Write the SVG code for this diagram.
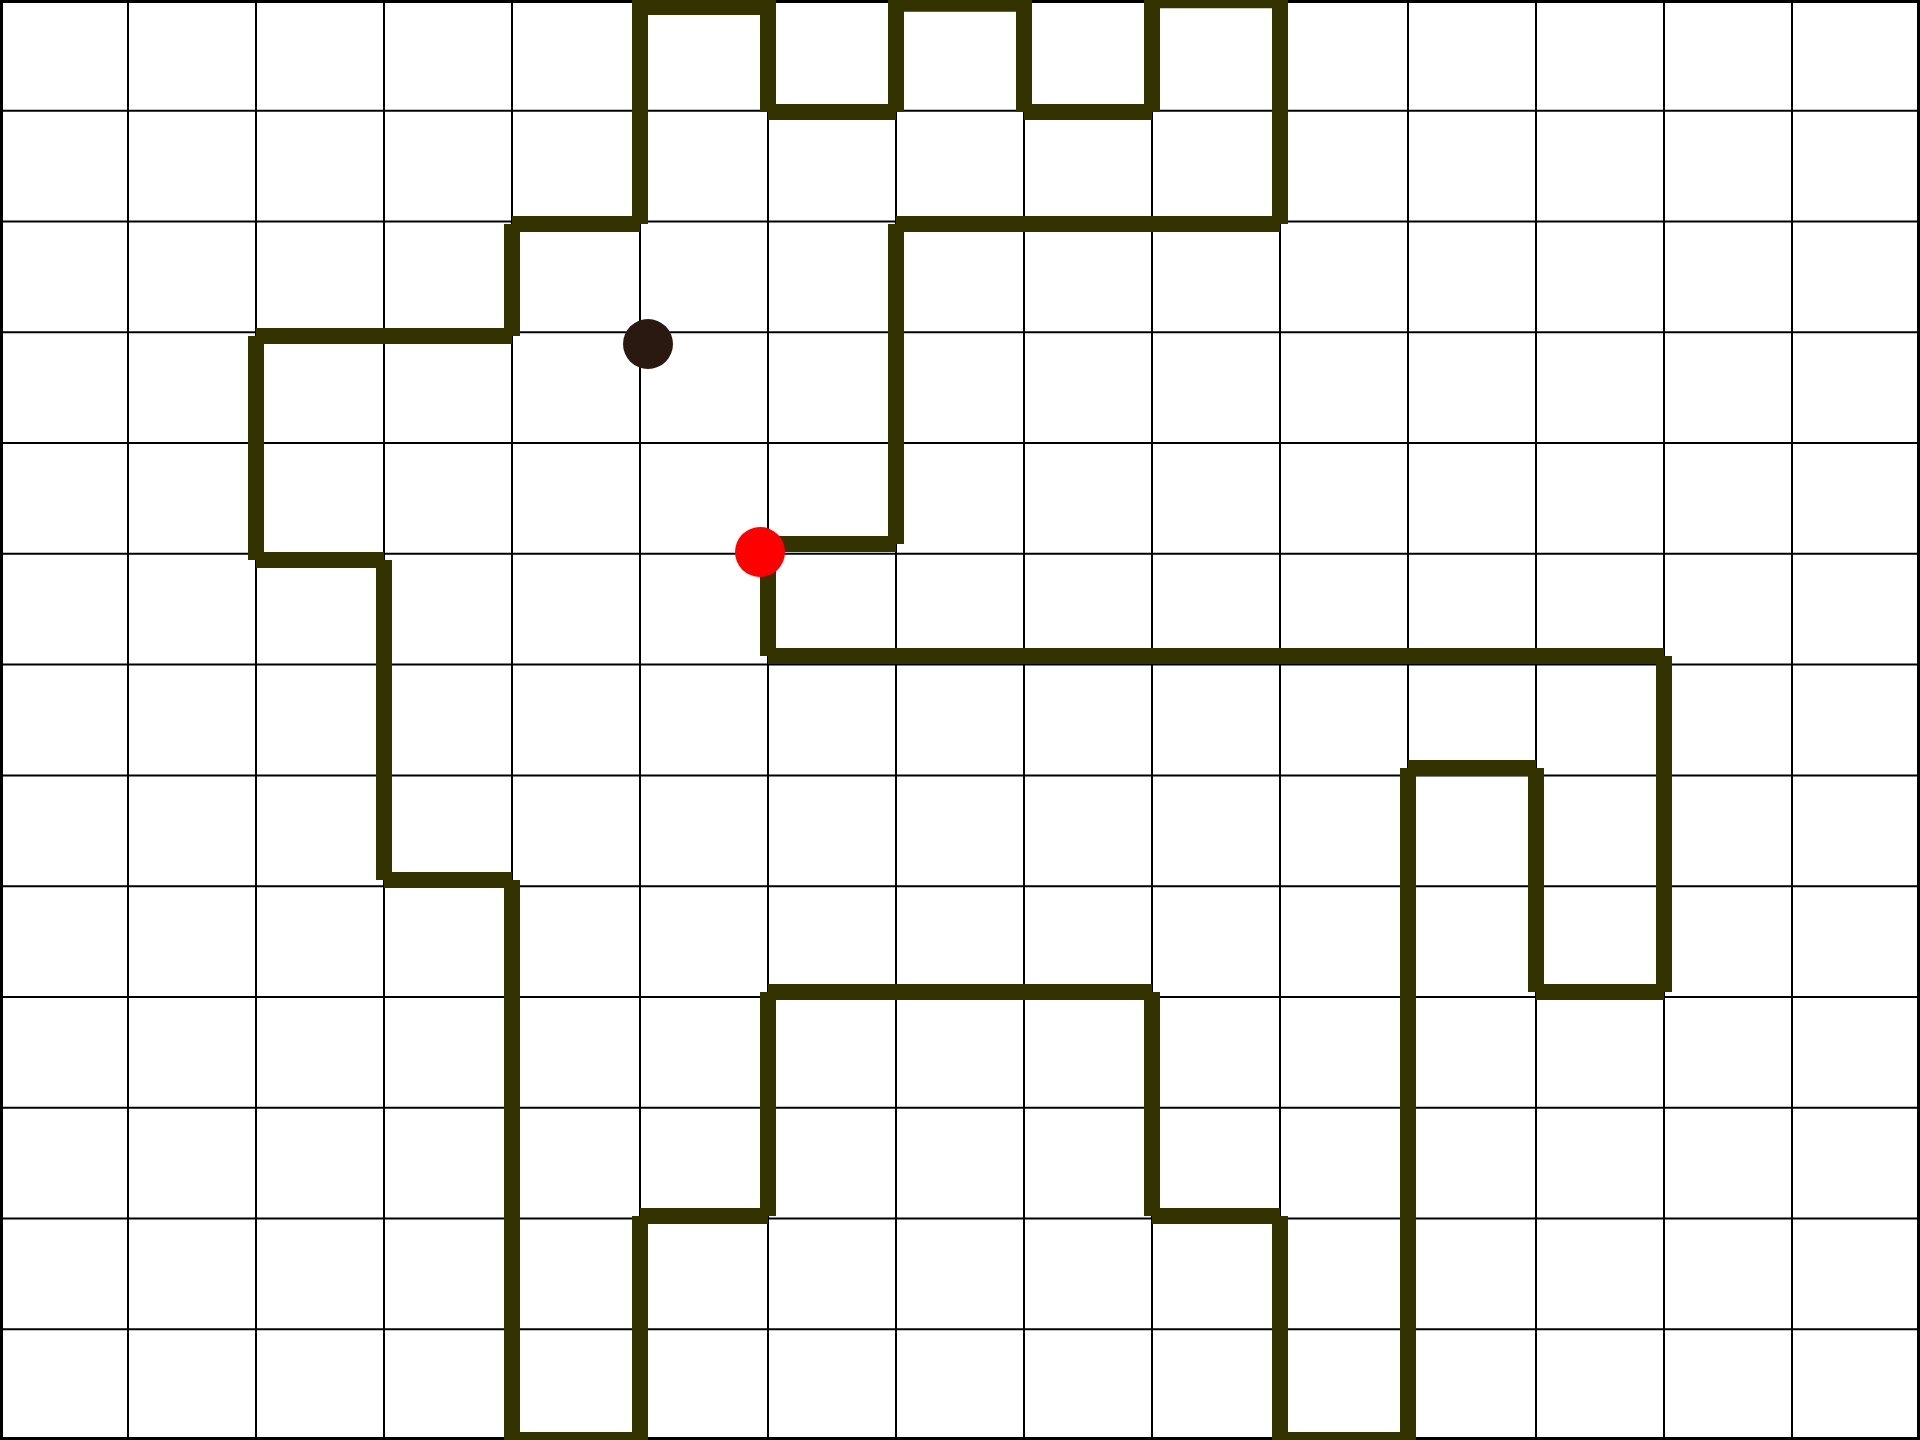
<svg xmlns="http://www.w3.org/2000/svg" width="1920" height="1440" viewBox="0 0 1920 1440">
<style>
.grid line{stroke:#000;stroke-width:2}
.border{fill:none;stroke:#000;stroke-width:6}
.route{fill:none;stroke:#333300;stroke-width:16;stroke-linecap:butt}
</style>
<rect width="1920" height="1440" fill="#fff"/>
<g id="grid" class="grid">
<line x1="128" y1="0" x2="128" y2="1440"/>
<line x1="256" y1="0" x2="256" y2="1440"/>
<line x1="384" y1="0" x2="384" y2="1440"/>
<line x1="512" y1="0" x2="512" y2="1440"/>
<line x1="640" y1="0" x2="640" y2="1440"/>
<line x1="768" y1="0" x2="768" y2="1440"/>
<line x1="896" y1="0" x2="896" y2="1440"/>
<line x1="1024" y1="0" x2="1024" y2="1440"/>
<line x1="1152" y1="0" x2="1152" y2="1440"/>
<line x1="1280" y1="0" x2="1280" y2="1440"/>
<line x1="1408" y1="0" x2="1408" y2="1440"/>
<line x1="1536" y1="0" x2="1536" y2="1440"/>
<line x1="1664" y1="0" x2="1664" y2="1440"/>
<line x1="1792" y1="0" x2="1792" y2="1440"/>
<line x1="0" y1="110.77" x2="1920" y2="110.77"/>
<line x1="0" y1="221.54" x2="1920" y2="221.54"/>
<line x1="0" y1="332.31" x2="1920" y2="332.31"/>
<line x1="0" y1="443.08" x2="1920" y2="443.08"/>
<line x1="0" y1="553.85" x2="1920" y2="553.85"/>
<line x1="0" y1="664.62" x2="1920" y2="664.62"/>
<line x1="0" y1="775.38" x2="1920" y2="775.38"/>
<line x1="0" y1="886.15" x2="1920" y2="886.15"/>
<line x1="0" y1="996.92" x2="1920" y2="996.92"/>
<line x1="0" y1="1107.69" x2="1920" y2="1107.69"/>
<line x1="0" y1="1218.46" x2="1920" y2="1218.46"/>
<line x1="0" y1="1329.23" x2="1920" y2="1329.23"/>
<rect class="border" x="0" y="0" width="1920" height="1440"/>
</g>
<g id="connectors">
<path class="route" d="M768 544H896 M896 544V224 M896 224H1280 M1280 224V0 M1280 0.3H1152 M1152 0V112 M1152 112H1024 M1024 112V0 M1024 3.7H896 M896 0V112 M896 112H768 M768 112V0 M768 7H640 M640 0V224 M640 224H512 M512 224V336 M512 336H256 M256 336V560 M256 560H384 M384 560V880 M384 880H512 M512 880V1440 M512 1440H640 M640 1440V1216 M640 1216H768 M768 1216V992 M768 992H1152 M1152 992V1216 M1152 1216H1280 M1280 1216V1440 M1280 1440H1408 M1408 1440V768 M1408 768H1536 M1536 768V992 M1536 992H1664 M1664 992V656 M1664 656H768 M768 656V544"/>
</g>
<g id="marker-node">
<circle cx="648" cy="344" r="25" fill="#2a1910"/>
</g>
<g id="start-node">
<circle cx="760" cy="552" r="25" fill="#ff0000"/>
</g>
</svg>
